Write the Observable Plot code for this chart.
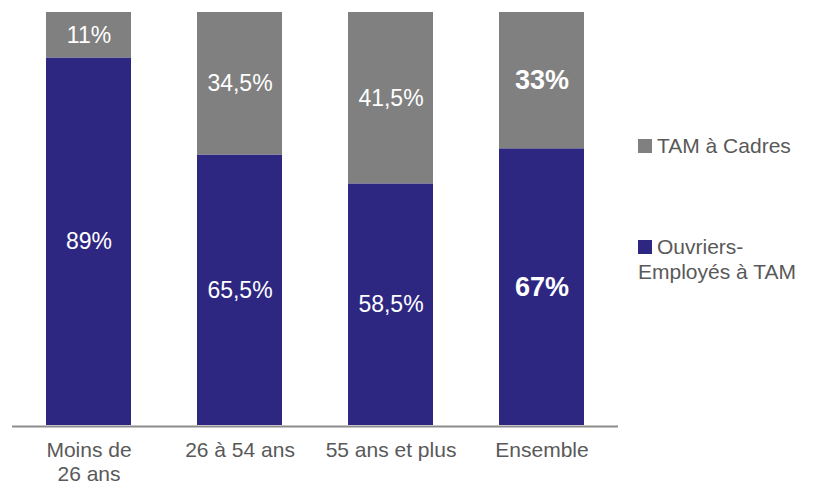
<!DOCTYPE html>
<html><head><meta charset="utf-8">
<script src="https://cdn.jsdelivr.net/npm/d3@7"></script>
<script src="https://cdn.jsdelivr.net/npm/@observablehq/plot@0.6"></script>
<style>
body{margin:0;background:#fff;font-family:"Liberation Sans",Arial,sans-serif;}
#wrap{position:relative;width:819px;height:485px;}
.leg{position:absolute;left:638px;color:#595959;font-size:21px;line-height:25px;}
.leg .sw{display:inline-block;width:14px;height:14px;margin-right:5px;vertical-align:0px;}
</style></head><body>
<div id="wrap"></div>
<script>
const categories = ["Moins de 26 ans", "26 à 54 ans", "55 ans et plus", "Ensemble"];
const tickLabels = ["Moins de\n26 ans", "26 à 54 ans", "55 ans et plus", "Ensemble"];
const seriesNames = ["Ouvriers-Employés à TAM", "TAM à Cadres"];
const ouvriers = [89, 65.5, 58.5, 67];
const cadres = [11, 34.5, 41.5, 33];
const colors = ["#2e2782", "#808080"];
const highlighted = "Ensemble";

const rows = [];
categories.forEach((c, i) => rows.push({cat: c, serie: seriesNames[0], v: ouvriers[i]}));
categories.forEach((c, i) => rows.push({cat: c, serie: seriesNames[1], v: cadres[i]}));
const fmt = v => String(v).replace(".", ",") + "%";

const chart = Plot.plot({
  width: 819, height: 485,
  marginLeft: 12, marginRight: 201, marginTop: 12, marginBottom: 60,
  style: {fontFamily: "'Liberation Sans', Arial, sans-serif", background: "#fff"},
  x: {domain: categories, paddingInner: 0.44, paddingOuter: 0.22, label: null},
  y: {domain: [0, 100], axis: null},
  color: {domain: seriesNames, range: colors},
  marks: [
    Plot.barY(rows, {x: "cat", y: "v", fill: "serie", order: seriesNames}),
    Plot.text(rows, Plot.stackY({x: "cat", y: "v", z: "serie", order: seriesNames,
      filter: d => d.cat !== highlighted, text: d => fmt(d.v),
      fill: "white", fontSize: 23})),
    Plot.text(rows, Plot.stackY({x: "cat", y: "v", z: "serie", order: seriesNames,
      filter: d => d.cat === highlighted, text: d => fmt(d.v),
      fill: "white", fontSize: 27, fontWeight: "bold"})),
    Plot.ruleY([0], {stroke: "#8c8c8c", strokeWidth: 2, dy: 1}),
    Plot.axisX({tickSize: 0, tickPadding: 15, fontSize: 21, color: "#595959", lineHeight: 1.12, label: null,
      tickFormat: d => tickLabels[categories.indexOf(d)]})
  ]
});
const wrap = document.getElementById("wrap");
wrap.appendChild(chart);
const legItems = [
  {name: "TAM à Cadres", color: colors[1], top: 133},
  {name: "Ouvriers-<br>Employés à TAM", color: colors[0], top: 234}
];
legItems.forEach(it => {
  const d = document.createElement("div");
  d.className = "leg";
  d.style.top = it.top + "px";
  d.innerHTML = `<span class="sw" style="background:${it.color}"></span>` + it.name;
  wrap.appendChild(d);
});
</script>
</body></html>
